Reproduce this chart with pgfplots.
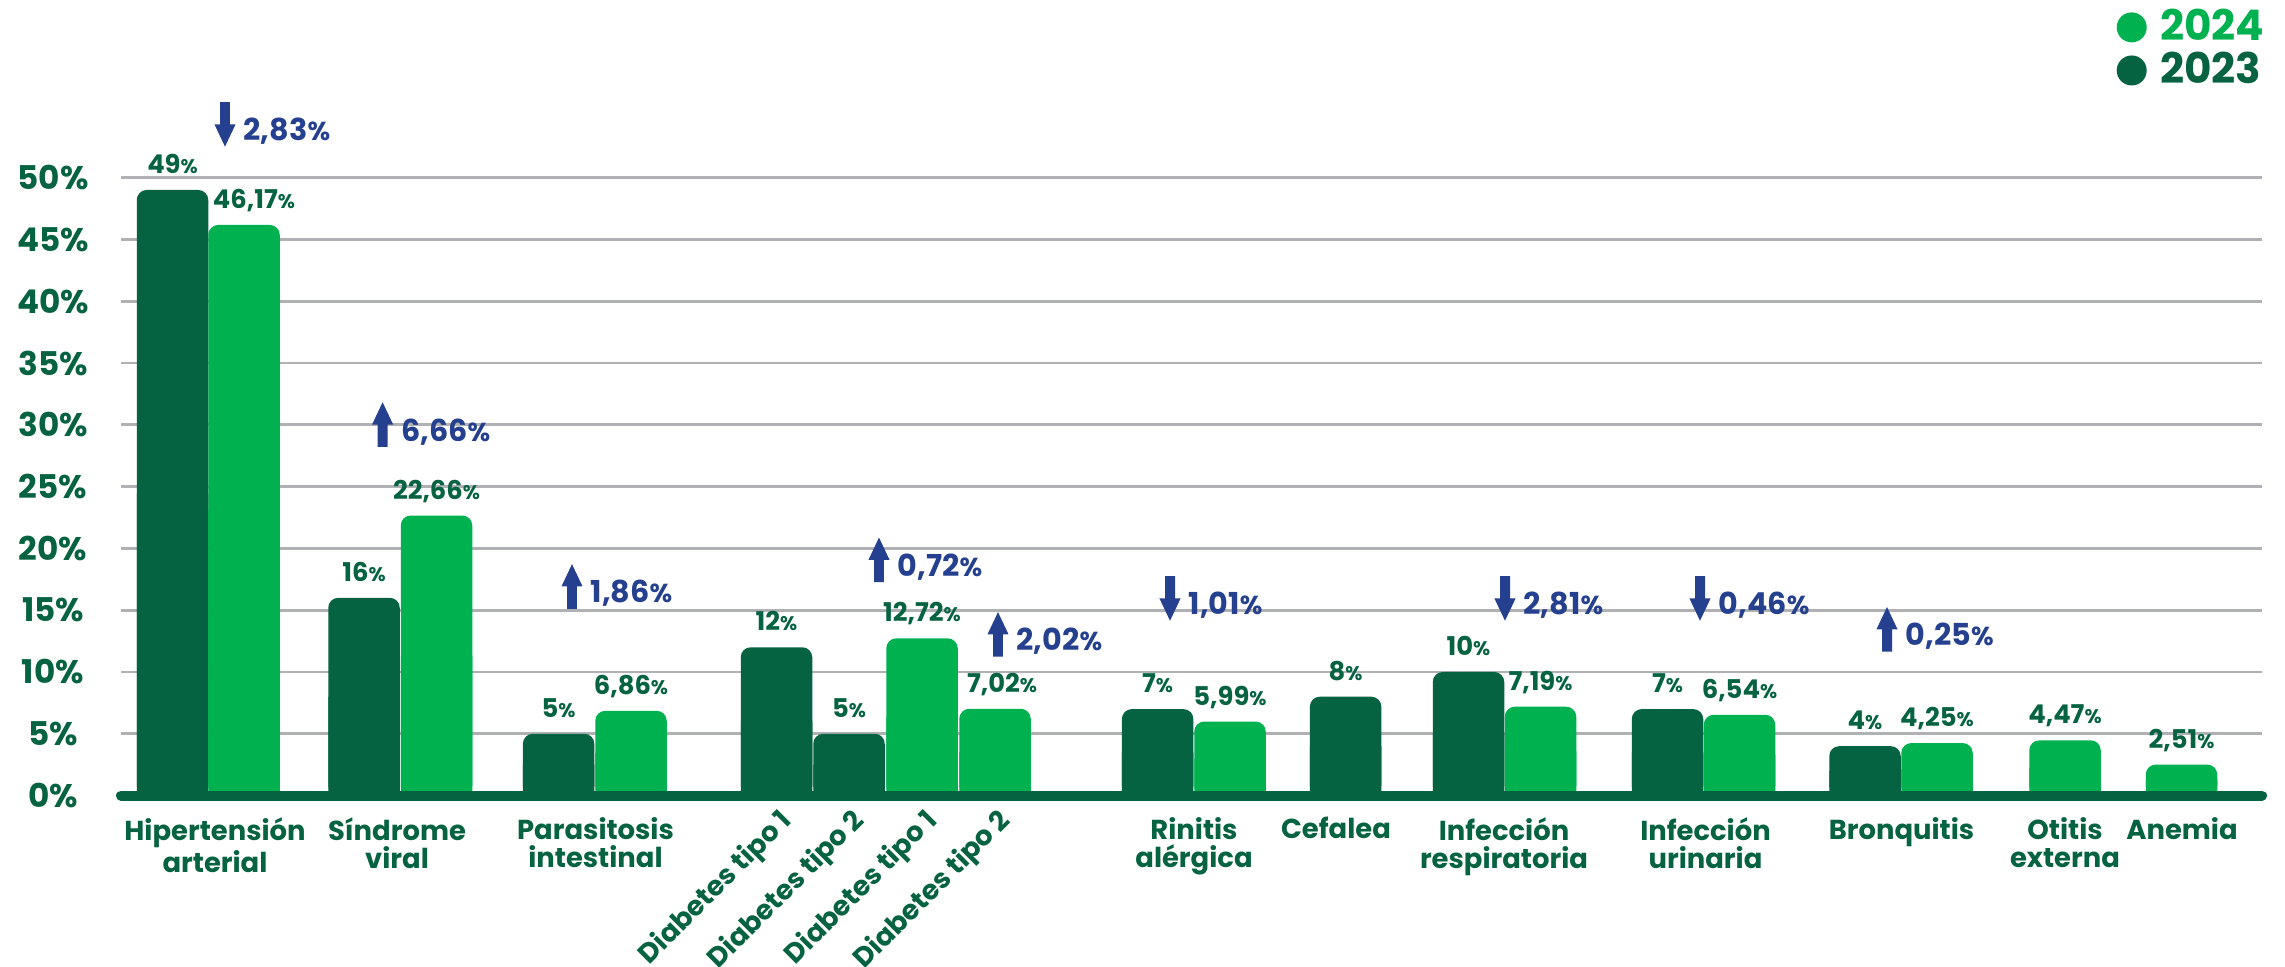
\documentclass[border=0pt]{standalone}
\usepackage{fontspec}
\setmainfont{Poppins}
\usepackage{pgfplots}
\usepackage{pgfplotstable}
\pgfplotsset{compat=1.18}

\definecolor{dgreen}{HTML}{056341}
\definecolor{lgreen}{HTML}{00B14F}
\definecolor{cblue}{HTML}{24408E}
\definecolor{gridgray}{HTML}{B0B1B5}

% arrows for the change between years
\pgfdeclareplotmark{arrup}{%
  \pgfpathrectanglecorners{\pgfpoint{-1.42pt}{-6.35pt}}{\pgfpoint{1.42pt}{0.3pt}}%
  \pgfpathmoveto{\pgfpoint{-3pt}{0pt}}%
  \pgfpathlineto{\pgfpoint{3pt}{0pt}}%
  \pgfpathlineto{\pgfpoint{0pt}{6.35pt}}%
  \pgfpathclose
  \pgfusepathqfill}
\pgfdeclareplotmark{arrdown}{%
  \pgfpathrectanglecorners{\pgfpoint{-1.42pt}{6.35pt}}{\pgfpoint{1.42pt}{-0.3pt}}%
  \pgfpathmoveto{\pgfpoint{-3pt}{0pt}}%
  \pgfpathlineto{\pgfpoint{3pt}{0pt}}%
  \pgfpathlineto{\pgfpoint{0pt}{-6.35pt}}%
  \pgfpathclose
  \pgfusepathqfill}

\pgfplotsset{
  circleleg/.style={legend image code/.code={\fill[##1] (1.5mm,0pt) circle (1.5mm);}},
}
\tikzset{
  barlbl/.style={anchor=base, inner sep=0pt, yshift=1.65mm,
    font=\fontsize{7.35}{8}\selectfont\bfseries, text=dgreen},
  chglbl/.style={anchor=base west, inner sep=0pt, xshift=1.8mm, yshift=-1.65mm,
    font=\fontsize{8.6}{9}\selectfont\bfseries, text=cblue},
}

\newcommand\pct{{\fontsize{5.6}{6}\selectfont\%}}
\newcommand\pctb{{\fontsize{7.4}{8}\selectfont\%}}

% 2023
\pgfplotstableread{
x      v    lbl
172.5  49   49
364    16   16
558.6  5    5
776.5  12   12
849    5    5
1157.6 7    7
1345.6 8    8
1468.5 10   10
1667.5 7    7
1865   4    4
}\yrA

% 2024
\pgfplotstableread{
x      v     lbl    dx
244    46.17 46,17  1
436.5  22.66 22,66  0
631    6.86  6,86   0
922    12.72 12,72  0
995    7.02  7,02   0.7
1230   5.99  5,99   0
1540.5 7.19  7,19   0
1739.5 6.54  6,54   0
1937   4.25  4,25   0
2065   4.47  4,47   0
2181.5 2.51  2,51   0
}\yrB

\pgfplotstableread{
x     y     lbl
382.6 30.02 6,66
572   16.92 1,86
879   19.07 0,72
998   13.04 2,02
1887  13.45 0,25
}\upch

\pgfplotstableread{
x     y     lbl
225   54.31 2,83
1170  15.95 1,01
1505  15.95 2,81
1700  15.95 0,46
}\downch

\begin{document}
\begin{tikzpicture}
\begin{axis}[
  at={(12.1mm,17.14mm)}, anchor=south west,
  scale only axis, width=214.1mm, height=61.8mm,
  xmin=121, xmax=2262, ymin=0, ymax=50,
  clip=false,
  axis line style={draw=none},
  tick style={draw=none},
  ymajorgrids,
  grid style={gridgray, line width=0.75pt},
  ytick={0,5,...,50},
  yticklabels={0\%,5\%,10\%,15\%,20\%,25\%,30\%,35\%,40\%,45\%,50\%},
  yticklabel style={anchor=center, xshift=-6.8mm, inner sep=0pt,
    font=\fontsize{9.3}{10}\selectfont\bfseries, text=dgreen},
  xtick={215,397,595.5,1194,1336,1504,1705.5,1901.5,2065,2182},
  xticklabels={{Hipertensión\\arterial},{Síndrome\\viral},{Parasitosis\\intestinal},
    {Rinitis\\alérgica},{Cefalea},{Infección\\respiratoria},{Infección\\urinaria},
    {Bronquitis},{Otitis\\externa},{Anemia}},
  xticklabel style={align=center, anchor=north, inner sep=0pt, yshift=-2.1mm,
    font=\fontsize{7.8}{8}\selectfont\bfseries, text=dgreen},
  extra x ticks={776.5,849,922,995},
  extra x tick labels={Diabetes tipo 1,Diabetes tipo 2,Diabetes tipo 1,Diabetes tipo 2},
  extra x tick style={xticklabel style={xshift=0.1mm, yshift=1.1mm, rotate=45, anchor=north east}},
  reverse legend,
  legend cell align=left,
  legend style={at={(axis cs:2116.7,63.64)}, anchor=north west, draw=none, fill=none,
    inner sep=0pt, outer sep=0pt, row sep=1.8pt, nodes={inner sep=0pt},
    /tikz/every odd column/.append style={column sep=1.33mm},
    font=\fontsize{12}{12}\selectfont\bfseries},
]
\addplot[ybar, bar width=7.15mm, bar shift=0pt, fill=dgreen, draw=none, rounded corners=1mm,
  circleleg, point meta=explicit symbolic,
  nodes near coords={\pgfplotspointmeta\pct},
  every node near coord/.append style={barlbl}]
  table[x=x, y=v, meta=lbl] {\yrA};
\addlegendentry{\textcolor{dgreen}{2023}}
\addplot[ybar, bar width=7.15mm, bar shift=0pt, fill=dgreen, draw=none, forget plot]
  table[x=x, y expr=\thisrow{v}/2] {\yrA};

\addplot[ybar, bar width=7.15mm, bar shift=0pt, fill=lgreen, draw=none, rounded corners=1mm,
  circleleg, point meta=explicit symbolic,
  visualization depends on={\thisrow{dx} \as \dx},
  nodes near coords={\pgfplotspointmeta\pct},
  every node near coord/.append style={barlbl, xshift={\dx*1mm}}]
  table[x=x, y=v, meta=lbl] {\yrB};
\addlegendentry{\textcolor{lgreen}{2024}}
\addplot[ybar, bar width=7.15mm, bar shift=0pt, fill=lgreen, draw=none, forget plot]
  table[x=x, y expr=\thisrow{v}/2] {\yrB};

\draw[dgreen, line width=1mm, line cap=round] (axis cs:121,0) -- (axis cs:2262,0);

\addplot[only marks, mark=arrup, color=cblue, forget plot,
  point meta=explicit symbolic,
  nodes near coords={\pgfplotspointmeta\pctb},
  every node near coord/.append style={chglbl}]
  table[x=x, y=y, meta=lbl] {\upch};
\addplot[only marks, mark=arrdown, color=cblue, forget plot,
  point meta=explicit symbolic,
  nodes near coords={\pgfplotspointmeta\pctb},
  every node near coord/.append style={chglbl}]
  table[x=x, y=y, meta=lbl] {\downch};
\end{axis}
\pgfresetboundingbox
\useasboundingbox (0,0) rectangle (228.5mm,96.7mm);
\end{tikzpicture}
\end{document}
